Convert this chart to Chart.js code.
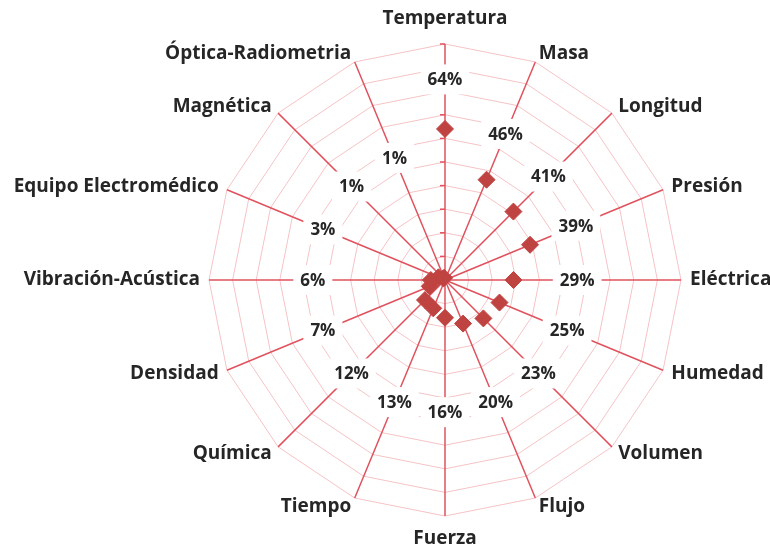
<!DOCTYPE html>
<html>
<head>
<meta charset="utf-8">
<script src="https://cdn.jsdelivr.net/npm/chart.js@4"></script>
<style>
  html, body { margin: 0; padding: 0; background: #ffffff; }
  #wrap { width: 770px; height: 549px; }
</style>
</head>
<body>
<div id="wrap"><canvas id="radar"></canvas></div>
<script>
// Magnitudes, clockwise from the top
const categories = [
  'Temperatura', 'Masa', 'Longitud', 'Presión', 'Eléctrica', 'Humedad',
  'Volumen', 'Flujo', 'Fuerza', 'Tiempo', 'Química', 'Densidad',
  'Vibración-Acústica', 'Equipo Electromédico', 'Magnética', 'Óptica-Radiometria'
];
// Share of each magnitude, percent
const shares = [64, 46, 41, 39, 29, 25, 23, 20, 16, 13, 12, 7, 6, 3, 1, 1];
// Radial axis
const axisMin = 0;
const axisMax = 100;
const axisStep = 10;

const TEXT = '#262626';
const SPOKE = '#e0525e';
const RING = '#f6c3c6';
const MARK = '#bf4340';
const FONT = '"Open Sans", "Liberation Sans", sans-serif';

// Category names just beyond the outer end of each spoke
const categoryLabels = {
  id: 'categoryLabels',
  afterDraw(chart) {
    const r = chart.scales.r;
    const ctx = chart.ctx;
    ctx.save();
    ctx.font = '700 19px ' + FONT;
    ctx.fillStyle = TEXT;
    ctx.textBaseline = 'middle';
    categories.forEach((name, i) => {
      const a = r.getIndexAngle(i);
      const s = Math.sin(a), c = Math.cos(a);
      const p = r.getPointPositionForValue(i, axisMax);
      if (Math.abs(s) < 0.01) {
        ctx.textAlign = 'center';
        ctx.fillText(name, p.x, p.y + (c > 0 ? -25 : 23));
      } else {
        ctx.textAlign = s > 0 ? 'left' : 'right';
        ctx.fillText(name, p.x + s * 9, p.y - c * 9);
      }
    });
    ctx.restore();
  }
};

// Small tick marks along the first spoke
const spokeTicks = {
  id: 'spokeTicks',
  beforeDatasetsDraw(chart) {
    const r = chart.scales.r;
    const ctx = chart.ctx;
    ctx.save();
    ctx.strokeStyle = SPOKE;
    ctx.lineWidth = 1.5;
    for (let v = axisMin + axisStep; v <= axisMax; v += axisStep) {
      const p = r.getPointPositionForValue(0, v);
      ctx.beginPath();
      ctx.moveTo(p.x - 5, p.y);
      ctx.lineTo(p.x, p.y);
      ctx.stroke();
    }
    ctx.restore();
  }
};

// Percentage labels on white boxes: 21 units past the mark, never closer than 56
const valueLabels = {
  id: 'valueLabels',
  afterDatasetsDraw(chart) {
    const r = chart.scales.r;
    const ctx = chart.ctx;
    ctx.save();
    ctx.font = '700 17px ' + FONT;
    ctx.textAlign = 'center';
    ctx.textBaseline = 'middle';
    shares.forEach((v, i) => {
      const p = r.getPointPositionForValue(i, Math.max(56, v + 21));
      const text = v + '%';
      const w = ctx.measureText(text).width;
      ctx.fillStyle = '#ffffff';
      ctx.fillRect(p.x - w / 2 - 7, p.y - 15, w + 14, 30);
      ctx.fillStyle = TEXT;
      ctx.fillText(text, p.x, p.y + 1);
    });
    ctx.restore();
  }
};

new Chart(document.getElementById('radar'), {
  type: 'radar',
  data: {
    labels: categories,
    datasets: [{
      data: shares,
      showLine: false,
      fill: false,
      borderWidth: 0,
      pointStyle: 'rectRot',
      pointRadius: 8.5,
      pointHoverRadius: 8.5,
      pointBackgroundColor: MARK,
      pointBorderColor: MARK,
      pointBorderWidth: 1
    }]
  },
  options: {
    responsive: true,
    maintainAspectRatio: false,
    animation: false,
    devicePixelRatio: 1,
    layout: { padding: { left: 209, right: 89, top: 44, bottom: 33 } },
    plugins: { legend: { display: false }, tooltip: { enabled: false } },
    scales: {
      r: {
        min: axisMin,
        max: axisMax,
        ticks: { display: false, stepSize: axisStep },
        grid: { color: RING, lineWidth: 1 },
        angleLines: { color: SPOKE, lineWidth: 1.5 },
        pointLabels: { display: false }
      }
    }
  },
  plugins: [spokeTicks, valueLabels, categoryLabels]
});
</script>
</body>
</html>
